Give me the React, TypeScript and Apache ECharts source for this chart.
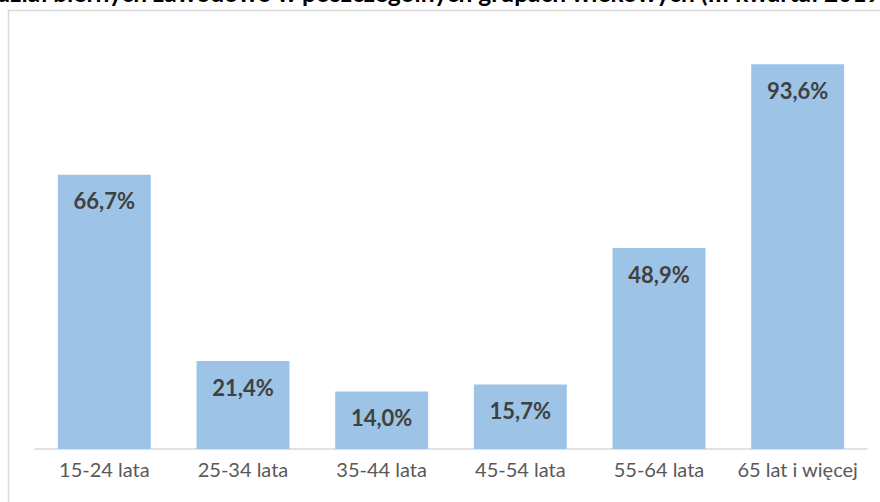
import React, { useEffect, useRef } from "react";
import * as echarts from "echarts";

const titleText = "Udział biernych zawodowo w poszczególnych grupach wiekowych (III kwartał 2019)";
const categories = ["15-24 lata", "25-34 lata", "35-44 lata", "45-54 lata", "55-64 lata", "65 lat i więcej"];
const values = [66.7, 21.4, 14.0, 15.7, 48.9, 93.6];

const FONT = "Lato";

export default function App() {
  const ref = useRef<HTMLDivElement>(null);
  useEffect(() => {
    if (!ref.current) return;
    const chart = echarts.init(ref.current, null, { renderer: "svg" });
    chart.setOption({
      animation: false,
      backgroundColor: "#ffffff",
      graphic: [
        {
          type: "rect",
          shape: { x: 8.5, y: 10.5, width: 1000, height: 1000 },
          style: { fill: "none", stroke: "#d9d9d9", lineWidth: 1.5 },
          z: -1,
        },
        {
          type: "text",
          x: 433,
          y: 5,
          style: {
            text: titleText,
            fontFamily: FONT,
            fontWeight: "bold",
            fontSize: 24.5,
            fill: "#000000",
            textAlign: "center",
            textVerticalAlign: "bottom",
          },
        },
      ],
      grid: { left: 35, right: 13, top: 38, bottom: 53, containLabel: false },
      xAxis: {
        type: "category",
        data: categories,
        axisLine: { lineStyle: { color: "#d9d9d9", width: 1.5 } },
        axisTick: { show: false },
        axisLabel: {
          color: "#595959",
          fontFamily: FONT,
          fontSize: 20,
          margin: 10,
          interval: 0,
        },
      },
      yAxis: {
        type: "value",
        min: 0,
        max: 100,
        show: false,
        splitLine: { show: false },
      },
      series: [
        {
          type: "bar",
          data: values,
          barCategoryGap: "33%",
          itemStyle: { color: "#9dc3e6" },
          label: {
            show: true,
            position: "insideTop",
            distance: 15,
            fontFamily: FONT,
            fontWeight: "bold",
            fontSize: 22,
            color: "#404040",
            formatter: (p: any) => p.value.toFixed(1).replace(".", ",") + "%",
          },
        },
      ],
    });
    return () => chart.dispose();
  }, []);
  return (
    <div
      ref={ref}
      style={{ position: "fixed", left: 0, top: 0, width: 880, height: 502 }}
    />
  );
}
